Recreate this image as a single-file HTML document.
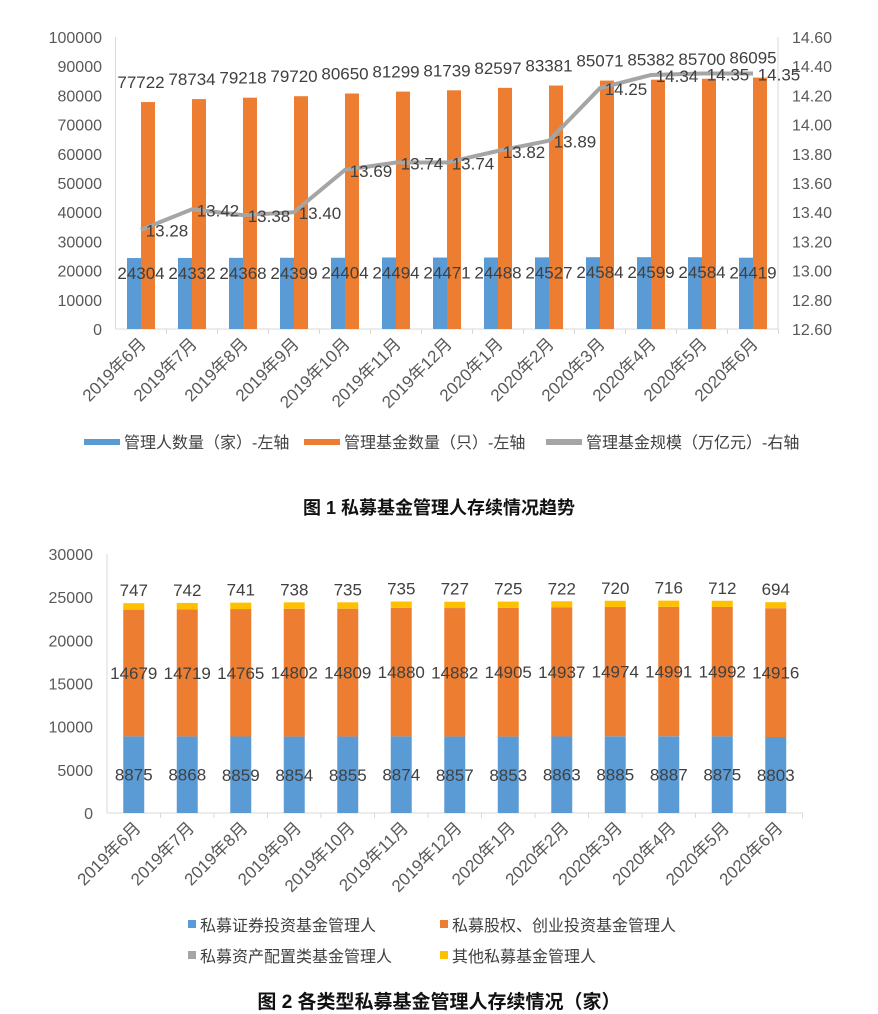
<!DOCTYPE html>
<html><head><meta charset="utf-8">
<style>
body{margin:0;background:#fff;}
svg{display:block;font-family:"Liberation Sans","Noto Sans CJK SC",sans-serif;}
</style></head>
<body>
<svg id="s" width="878" height="1014" viewBox="0 0 878 1014" xmlns="http://www.w3.org/2000/svg"></svg>
<script>
const months=["2019年6月","2019年7月","2019年8月","2019年9月","2019年10月","2019年11月","2019年12月","2020年1月","2020年2月","2020年3月","2020年4月","2020年5月","2020年6月"];
const managers=[24304,24332,24368,24399,24404,24494,24471,24488,24527,24584,24599,24584,24419];
const funds=[77722,78734,79218,79720,80650,81299,81739,82597,83381,85071,85382,85700,86095];
const scale=[13.28,13.42,13.38,13.40,13.69,13.74,13.74,13.82,13.89,14.25,14.34,14.35,14.35];
const leftTicks=[0,10000,20000,30000,40000,50000,60000,70000,80000,90000,100000];
const rightTicks=["12.60","12.80","13.00","13.20","13.40","13.60","13.80","14.00","14.20","14.40","14.60"];
const sec=[8875,8868,8859,8854,8855,8874,8857,8853,8863,8885,8887,8875,8803];
const pe=[14679,14719,14765,14802,14809,14880,14882,14905,14937,14974,14991,14992,14916];
const alloc=[3,3,3,5,5,5,5,5,5,5,5,5,6];
const other=[747,742,741,738,735,735,727,725,722,720,716,712,694];
const ticks2=[0,5000,10000,15000,20000,25000,30000];

const NS="http://www.w3.org/2000/svg";
const s=document.getElementById('s');
function el(t,a,txt){const e=document.createElementNS(NS,t);for(const k in a)e.setAttribute(k,a[k]);if(txt!==undefined)e.textContent=txt;s.appendChild(e);return e;}
const BLUE="#5b9bd5",ORANGE="#ed7d31",GRAY="#a5a5a5",YEL="#ffc000",TXT="#404040",AX="#595959";

// ---- Chart 1 ----
const x0=115.5,x1=778,step1=51,yb=329,yt=37;
const cx1=i=>x0+step1*(i+0.5);
const yL=v=>yb-(v/100000)*(yb-yt);
const yR=v=>yb-((v-12.6)/2)*(yb-yt);
let e;
leftTicks.forEach(v=>{e=el('text',{x:102,y:yL(v)+6,'text-anchor':'end','font-size':16,fill:AX},String(v));
});
rightTicks.forEach(v=>{e=el('text',{x:792,y:yR(parseFloat(v))+6,'font-size':16,fill:AX},v);
});
e=el('line',{x1:x0,y1:yt,x2:x0,y2:yb,stroke:'#d9d9d9'});
e=el('line',{x1:x1,y1:yt,x2:x1,y2:yb,stroke:'#d9d9d9'});
e=el('line',{x1:x0,y1:yb,x2:x1,y2:yb,stroke:'#d9d9d9'});
months.forEach((m,i)=>{
  const c=cx1(i);
  e=el('line',{x1:x0+step1*(i+1),y1:yb,x2:x0+step1*(i+1),y2:yb+5,stroke:'#d9d9d9'});
  e=el('rect',{x:c-14,y:yL(managers[i]),width:14,height:yb-yL(managers[i]),fill:BLUE});
  
  e=el('rect',{x:c,y:yL(funds[i]),width:14,height:yb-yL(funds[i]),fill:ORANGE});
  
});
const pts=scale.map((v,i)=>cx1(i)+','+yR(v)).join(' ');
e=el('polyline',{points:pts,fill:'none',stroke:GRAY,'stroke-width':4});
months.forEach((m,i)=>{
  const c=cx1(i);
  e=el('text',{x:c,y:yL(managers[i])+21,'text-anchor':'middle','font-size':17,fill:TXT},String(managers[i]));
  
  e=el('text',{x:c,y:yL(funds[i])-14,'text-anchor':'middle','font-size':17,fill:TXT},String(funds[i]));
  
  e=el('text',{x:c+26,y:yR(scale[i])+7,'text-anchor':'middle','font-size':17,fill:TXT},scale[i].toFixed(2));
  
  e=el('text',{x:c+6,y:yb+16,'text-anchor':'end','font-size':17,fill:AX,transform:`rotate(-45 ${c+6} ${yb+16})`},m);
  
});
// legend 1
[[84,BLUE,"管理人数量（家）-左轴"],[304,ORANGE,"管理基金数量（只）-左轴"],[546,GRAY,"管理基金规模（万亿元）-右轴"]].forEach(([x,c,t])=>{
  e=el('rect',{x:x,y:439,width:36,height:6,fill:c});
  e=el('text',{x:x+40,y:448,'font-size':16,fill:TXT},t);
});
e=el('text',{x:439,y:514,'text-anchor':'middle','font-size':18,'font-weight':'bold',fill:'#111'},"图 1  私募基金管理人存续情况趋势");


// ---- Chart 2 ----
const a0=107,a1=803,step2=53.5,yb2=813,yt2=554;
const cx2=i=>a0+step2*(i+0.5);
const y2=v=>yb2-(v/30000)*(yb2-yt2);
ticks2.forEach(v=>{e=el('text',{x:93,y:y2(v)+6,'text-anchor':'end','font-size':16,fill:AX},String(v));
});
e=el('line',{x1:a0,y1:yt2,x2:a0,y2:yb2,stroke:'#d9d9d9'});
e=el('line',{x1:a0,y1:yb2,x2:a1,y2:yb2,stroke:'#d9d9d9'});
months.forEach((m,i)=>{
  const c=cx2(i);let base=0;
  e=el('line',{x1:a0+step2*(i+1),y1:yb2,x2:a0+step2*(i+1),y2:yb2+5,stroke:'#d9d9d9'});
  [[sec,BLUE,'bar-securities'],[pe,ORANGE,'bar-private-equity'],[alloc,GRAY,'bar-asset-allocation'],[other,YEL,'bar-other']].forEach(([arr,col,nm])=>{
    const v=arr[i];
    e=el('rect',{x:c-10.5,y:y2(base+v),width:21,height:y2(base)-y2(base+v),fill:col});
    
    base+=v;
  });
  const tot=sec[i]+pe[i]+alloc[i]+other[i];
  e=el('text',{x:c,y:y2(sec[i]/2)+6,'text-anchor':'middle','font-size':17,fill:TXT},String(sec[i]));
  
  e=el('text',{x:c,y:y2(sec[i]+pe[i]/2)+6,'text-anchor':'middle','font-size':17,fill:TXT},String(pe[i]));
  
  e=el('text',{x:c,y:y2(tot)-7,'text-anchor':'middle','font-size':17,fill:TXT},String(other[i]));
  
  e=el('text',{x:c+8,y:yb2+16,'text-anchor':'end','font-size':17,fill:AX,transform:`rotate(-45 ${c+8} ${yb2+16})`},m);
  
});
[[188,931,BLUE,"私募证券投资基金管理人"],[440,931,ORANGE,"私募股权、创业投资基金管理人"],[188,962,GRAY,"私募资产配置类基金管理人"],[440,962,YEL,"其他私募基金管理人"]].forEach(([x,y,c,t])=>{
  e=el('rect',{x:x,y:y-11,width:8,height:8,fill:c});
  e=el('text',{x:x+12,y:y,'font-size':16,fill:TXT},t);
});
e=el('text',{x:439,y:1008,'text-anchor':'middle','font-size':19,'font-weight':'bold',fill:'#111'},"图 2  各类型私募基金管理人存续情况（家）");

</script>
</body></html>
